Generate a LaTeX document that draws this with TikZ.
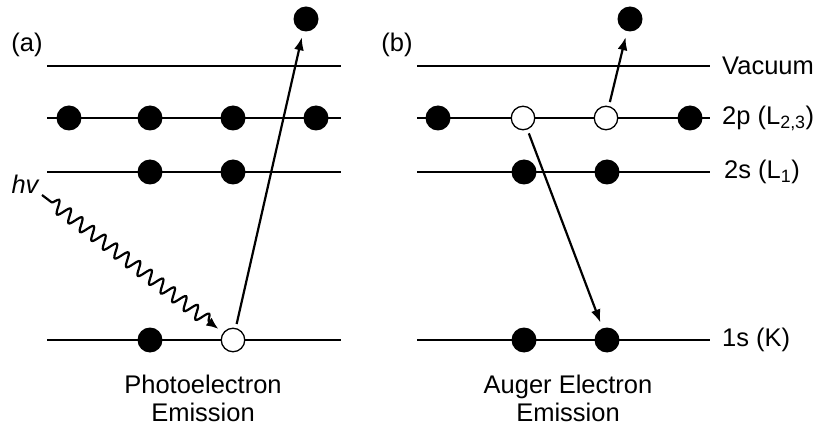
\documentclass[tikz,border=0pt]{standalone}
\usepackage{fontspec}
\setmainfont{Liberation Sans}
\usetikzlibrary{arrows.meta,decorations.pathmorphing}
\tikzset{
  full/.style={circle,fill=black,inner sep=0pt,minimum size=25pt},
  hole/.style={circle,draw=black,line width=1.3pt,fill=white,inner sep=0pt,minimum size=23.5pt},
  level/.style={line width=2pt},
  jump/.style={line width=2.2pt,-{Latex[length=13pt,width=10pt]},shorten <=4pt,shorten >=6pt},
  txt/.style={font=\fontsize{25.5}{28}\selectfont,inner sep=0pt}
}
\begin{document}
\begin{tikzpicture}[x=1pt,y=-1pt]
    \useasboundingbox (0,0) rectangle (819,430);
    %Levels (a)
    \foreach \y in {66,118,172,340}
      \draw[level] (47,\y) -- (341,\y);
    %Levels (b)
    \foreach \y in {66,118,172,340}
      \draw[level] (417,\y) -- (710,\y);
    %Panel labels
    \node[txt] (pa) at (27,45) {(a)};
    \node[txt] (pb) at (397,45) {(b)};
    %Level names
    \node[txt,anchor=west] (vac) at (722,66) {Vacuum};
    \node[txt,anchor=west] (lp) at (722,118) {2p (L\textsubscript{2,3})};
    \node[txt,anchor=west] (ls) at (724,172) {2s (L\textsubscript{1})};
    \node[txt,anchor=west] (lk) at (722,340) {1s (K)};
    %Electrons (a)
    \foreach \x [count=\i] in {69,150,233,316}
      \node[full] (ap\i) at (\x,118) {};
    \foreach \x [count=\i] in {150,233}
      \node[full] (as\i) at (\x,172) {};
    \node[full] (ak1) at (150,340) {};
    \node[hole] (ak2) at (233,340) {};
    \node[full] (aout) at (306,19) {};
    %Electrons (b)
    \node[full] (bp1) at (438,118) {};
    \node[hole] (bp2) at (523,118) {};
    \node[hole] (bp3) at (606,118) {};
    \node[full] (bp4) at (690,118) {};
    \foreach \x [count=\i] in {524,607}
      \node[full] (bs\i) at (\x,172) {};
    \foreach \x [count=\i] in {524,607}
      \node[full] (bk\i) at (\x,340) {};
    \node[full] (bout) at (630,19) {};
    %Photon
    \node[txt,font=\fontsize{25.5}{28}\selectfont\itshape] (hv) at (25,184) {hv};
    \coordinate (hvtail) at (42,195);
    \draw[line width=2.2pt,-{Latex[length=12pt,width=10pt]},shorten >=6pt,
          decorate,decoration={snake,amplitude=6.5pt,segment length=14.5pt,
          pre length=12pt,post length=14pt}] (hvtail) -- (ak2);
    %Transitions
    \draw[jump] (ak2) -- (aout);
    \draw[jump] (bp3) -- (bout);
    \draw[jump] (bp2) -- (bk2);
    %Captions
    \node[txt,align=center] (capa) at (203,398) {Photoelectron\\Emission};
    \node[txt,align=center] (capb) at (568,398) {Auger Electron\\Emission};
\end{tikzpicture}
\end{document}
